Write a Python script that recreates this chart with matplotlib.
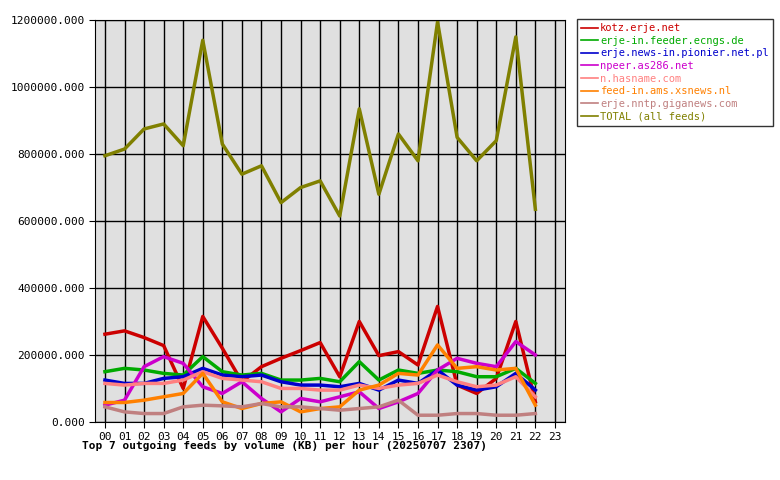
import matplotlib
matplotlib.use("Agg")
import matplotlib.pyplot as plt

hours = ["%02d" % h for h in range(24)]

kotz = [262, 272, 252, 228, 100, 315, 220, 120, 165, 190, 213, 237, 135, 300, 198, 210, 170, 345, 110, 85, 130, 300, 60]
ecngs = [150, 160, 155, 145, 140, 195, 150, 140, 145, 125, 125, 130, 120, 180, 125, 155, 145, 155, 150, 135, 135, 160, 115]
pionier = [125, 115, 115, 130, 135, 160, 140, 135, 140, 120, 110, 110, 105, 115, 95, 125, 115, 155, 110, 95, 105, 145, 95]
npeer = [50, 65, 165, 195, 175, 105, 85, 120, 70, 30, 70, 60, 75, 90, 40, 60, 85, 155, 190, 175, 165, 240, 200]
hasname = [115, 110, 115, 115, 125, 150, 130, 125, 120, 100, 100, 95, 95, 110, 100, 110, 115, 140, 120, 105, 110, 135, 75]
xsnews = [58, 58, 65, 75, 85, 145, 60, 40, 55, 60, 30, 40, 45, 95, 110, 145, 140, 230, 160, 165, 155, 160, 50]
giganews = [45, 30, 25, 25, 45, 50, 48, 45, 55, 45, 45, 40, 35, 40, 45, 65, 20, 20, 25, 25, 20, 20, 25]
total = [795, 815, 875, 890, 825, 1140, 830, 740, 765, 655, 700, 720, 615, 935, 680, 860, 780, 1195, 850, 780, 840, 1150, 635]

series = [
    ("kotz.erje.net", kotz, "#cc0000"),
    ("erje-in.feeder.ecngs.de", ecngs, "#00aa00"),
    ("erje.news-in.pionier.net.pl", pionier, "#0000cc"),
    ("npeer.as286.net", npeer, "#cc00cc"),
    ("n.hasname.com", hasname, "#ff8080"),
    ("feed-in.ams.xsnews.nl", xsnews, "#ff8000"),
    ("erje.nntp.giganews.com", giganews, "#c08080"),
    ("TOTAL (all feeds)", total, "#808000"),
]

font = "DejaVu Sans Mono"
fig = plt.figure(figsize=(7.8, 4.8), dpi=100)
ax = fig.add_axes([0.122, 0.121, 0.602, 0.837])
ax.set_facecolor("#e0e0e0")

for name, vals, col in series:
    ax.plot(range(len(vals)), [v * 1000 for v in vals], color=col, lw=2.5, label=name)

ax.set_xlim(-0.5, 23.5)
ax.set_ylim(0, 1200000)
ax.set_xticks(range(24))
ax.set_xticklabels(hours, fontfamily=font, fontsize=8)
yt = list(range(0, 1200001, 200000))
ax.set_yticks(yt)
ax.set_yticklabels(["%d.000" % v for v in yt], fontfamily=font, fontsize=8)
ax.grid(True, color="black", lw=1)
ax.set_axisbelow(True)
for s in ax.spines.values():
    s.set_color("black")
ax.tick_params(length=4, color="black")

fig.text(82 / 780, 1 - 446 / 480, "Top 7 outgoing feeds by volume (KB) per hour (20250707 2307)",
         fontfamily=font, fontsize=8, fontweight="bold", va="center")

leg = fig.legend(loc="upper left", bbox_to_anchor=(577 / 780, 1 - 19 / 480), prop={"family": font, "size": 7.5},
                 frameon=True, fancybox=False, edgecolor="black", handlelength=1.6,
                 handletextpad=0.2, labelspacing=0.25, borderpad=0.4, borderaxespad=0)
leg.get_frame().set_linewidth(1)
for t, (_, _, col) in zip(leg.get_texts(), series):
    t.set_color(col)
for l in leg.get_lines():
    l.set_linewidth(1.2)

fig.savefig("out.png", dpi=100)
